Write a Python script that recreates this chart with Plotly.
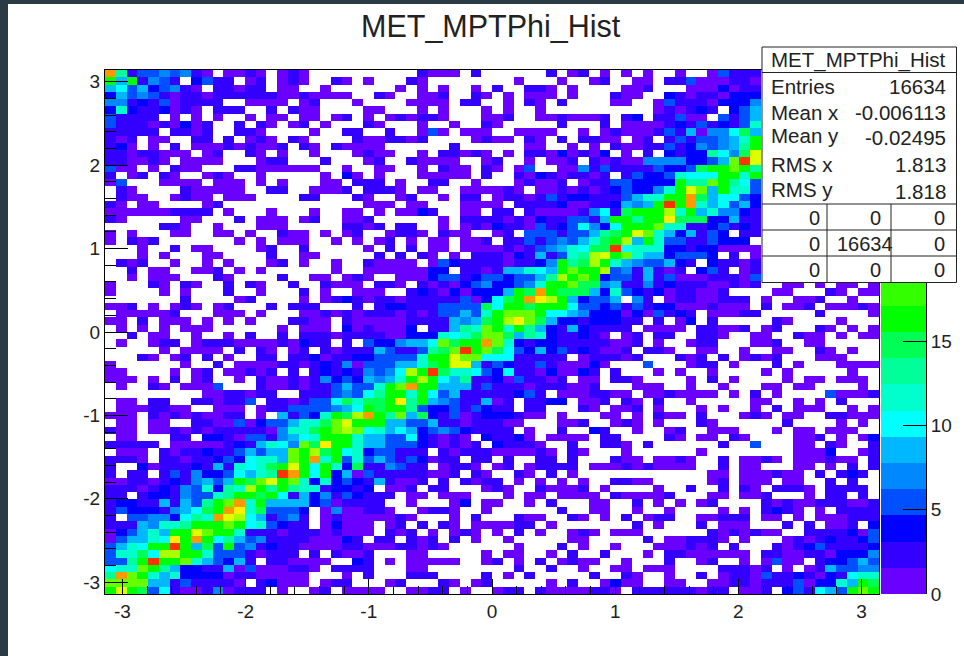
import plotly.graph_objects as go

PI = 3.14159265
N_BINS = 72
HIST_TITLE = "MET_MPTPhi_Hist"

# Cell readings, top row first. One character per bin: the colour band.
LEFT_COLS = [
"h924454521.1121.121.....","b6b2542.3422.12.121..21.","674634521.22122.11..1...","36454212212222221121111.",
"55232412222..1111.12...1","383223121.222..2.211....","42222.1.1.1..1.11.11.12.","4222121312..2.21.12.1...",
"22222.2212..221....1..22","212.11..22.2.121.21....2","231.1.2.111212112.21.211","22122111.12..21.1..1...1",
"221121.1111...122...2...","411.1.211...22111111..1.","2.12.21..121..1.....1.31","14...1111.111.1.1...11.2",
".21....211111..22..1112.",".211..1211.111....22...2","21.11....12.............","1111112222.1...1...1..11",
"21.....11...2.111.12..11",".....221..1...111.....22","1.1...11..11.1..211.1.12","1.212.......1.1.111..1.1",
"...1..2.11....12..2.....","...1.1...11....2..11....",".212..1..1.1...12.1..1..","..2.11..112.1.1......1..",
"..1.111...21....2..11.12","1...21.21..2.21..2..2111","1....1.1...2..1...2.1..1",".......2....12....1.1232",
"112.1.121.12...2.222...2",".111112...111.1...112121","11.2.111.1.1.1...2211.21",".1.1.1.111......1.111.31",
"..2.11..1..1.2..2.222122",".1..122.1222111121322.2.",".....1.1111.2.21.12.2122","...21.12.2.1..22.2231223",
"1......1..2.111122123251","11....1.12.11212.2.23232","111.1.2.12..1.2112125343",".1..21.1114...2112122464",
".........1122122..222454",".11.22..221224.2212447a8",".1112211..111.1224444567","111.212121122.1.62438cae",
".11.11..221141344688adfb","211.112121222221588acded",".11...22.33214425678ccb8","22222.111112326875dagcb8",
".111.212232246466dbeab78","2221.221223437886dbh8b48","2..312223262878acfc7b83a","2.22.24253347689jhc7c361",
"112212325646badfcd838343","2221232548398ec9c9882332","22.233254489bbac72635243","2332262649bdh8b666634122",
"243332567abhg8a4443.1511","2.44553798hfe762452.1211","22265889bbbdb784322.1311","134686bbfdbb822212221211",
"146687gbhb79645222211132","4687bbjc6a4b452322111122","488a7eebc844421222.2.211","449bjccd864362.221111..3",
"788db963322614111221.222","9hdb868333312211111...1.","dddd662422221.23111.122.","bfba47211251222.1..12.11",
]
MIDDLE_COLS = [
".....2111.2......2.12.1.","1...21........1...1..12.","...1.1.1..1.2..221.1....",".21..112..21.1.111.1...2",
"....1111.22..1.21.2....1","11...1.1...1.1..1.......","1.121221...112..1121112.","21...1..1..21.....2...2.",
"..2..141.111..1111..1.12","112212....1211.21.2.2211","11......2......11..1.1.2","211..1.22121.1.22131213.",
"12..21111..12..1.112.212",".11..1.211.21.14..115242",".1...11111.2..213212212.","22.1..22..1...12112.1224",
"2221.11..111121.11212123","1..12..1.22.122124233222","111.11...1111.2222311223",".1.1132..11.22.211112572",
"2......1.22221213224426b","12.22..1.121322142347537","..1221.211..12.44424469a",".12.1.11.112.224245468ac",
"1.2.2.11.111121245687aaj",".2.2.21.1.22213262489efc","21111.143222212235b9aeb8","11111133.221266876bdcce4",
"1..111344234434469ebdb34",".221.212134533458bbdaa56","11..2321313336bahbaaa638","1221222224137achgeb63446",
".2332224444a7ccabbb74434","222121244648bdddb7765333","11112222656abegda6332333","21113.22698db8b963263222",
"2211333878adda698322321.","4335667dabchd83233222221","2642249adjbda74363423211","344448bcfdd77722222.1222",
"444668acff6243224211131.","5457ebja88743722131132.2","6568beb769223142212.11.2","48bdhcb666242221222112..",
"79cb8b74622222342.111221","aacg9b65422612.2233.112.","cacc9433424322.22...21.1","hc9d6a32412333211.1...11",
"bb6644622122211...112..1","78676345432222.1..2..32.","6644732121.32231.1111.22","66444321212.32221..2..22",
"344222.21222111121.21...","464243122.22.2..22.2...2","225422.1221.12.12222.111","422222112.21..21.2.1....",
"262112.2.2122.1.1.1.1..2","3.112.22...121..21112.1.","222.11.111...1.11.1111.2","22..1...13.11..1.2...11.",
"221..1221..1......2..11.","11121...1.2...211..21.1.","1.12.2.21.111122.1......","1.212.1.121.1.2.1..121.1",
".22.212.2.1..1.....11...","11122121......1...2.1..1","2...11.....1.11..1.2..2.","2.1.11111..12.1.2.1211..",
"2...11........2..2..1..1","2...222....2.1.2.....2..","..12...21.12.....1.2..13","11..1122.1..122.21111221",
]
# The first rows run behind the statistics box, so only the visible bins are listed.
RIGHT_COLS = [
"1.1..1..14222",".11.224111221","112...1113122","11..321221333","1..1422213335","...121232.346",
"23.22411.4246","1111232423248","11124261557a6",".12.24244568b","112242354569c","1.2.3233975af",
"1155553346djf","2224334acbdb9","243348777bb8b","43333b99db974","43358bfd6b884","4688bbha67743",
"656bjch867463","accbe8b685532","b9bbgaaa33622","bbbd882234232","bfd8636243.22","e6b844224333.",
"7888332331111","d86634443.2.1","6544632.32212","526212.342.12","4262411122214",
"2252322211212..11.1.11.1","4323122112....11...21.11",".52.12211222.1..112..1..","242331112111.2.112.11121",
"1314232.11122.....2....1","22.2.13.2.....21....1...","2.1111.22112.12...21.1.1","12.22..221..11..211.1.11",
"12.1..122...112..11.....","2.221..11..1..11..21.1..","12...212.2.1212...111...","..4...122.1...2.1...1111",
"...1.1..1....1.1.....1..","21....1.2.1....1.11.111.",".111..1..1...11.11....1.","1.1121111.1.2.1....41112",
"21.2..1.....11..1.1.2...","12.1...1.1..1.2.111..1.1",".1.211.2...121.11..22111","21.1...21......2....1.1.",
".1..12..111...1.11.111..","....21.11.21....112.1.13","1.2......2..4...11.21..2","1......1........1113..12",
"11.1121..2.1121.111211.2","2121111..2.11...11.1.2.2","........11.111211.2.232.","211.....12.111.11..2.2..",
"...1..2..2.21.2221.2222.","11112...11.112...1.22.2.",".2.1.1.12....21211222112",".1..1....1.1.2321.1.2222",
"2.122..11222.11.1.111222",".2.1...2.111...2.2.112.3","11......2121211..2222314","..2.112221.1...121232234",
"...111212.2...2123422223","..1.22111111.22112213335","1...2..12..1.1411.233464","1.111....22212.1.1264455",
"21..1..2.122142232132788","11..11..11221222413386ca",".222222122.112.342764bdb",
]

# Colour band of each character, and a histogram count inside that band.
BAND_CODES = ".123456789abcdefghijk"
BAND_COUNTS = [0, 1, 2, 4, 5, 7, 8, 10, 11, 13, 14, 16, 17, 19, 21, 22, 24, 25, 27, 28, 30]

# ROOT rainbow palette, 20 levels.
PALETTE = ["#6a00ff", "#3300ff", "#0000ff", "#0050ff", "#0088ff", "#00b8ff", "#00ffff", "#00ffcc",
           "#00ff99", "#00ff55", "#00ff00", "#33ff00", "#66ff00", "#aaff00", "#ddff00", "#ffee00",
           "#ff9900", "#ff6600", "#ff3300", "#ff0000"]
ZMAX = 31.1
TICKS_XY = [-3, -2, -1, 0, 1, 2, 3]
TICK_LABELS_XY = ["-3", "-2", "-1", "0", "1", "2", "3"]
BAR_TICKS = [0, 5, 10, 15, 20, 25, 30]

STATS_LABELS = ["Entries", "Mean x", "Mean y", "RMS x", "RMS y"]
STATS_VALUES = ["16634", "-0.006113", "-0.02495", "1.813", "1.818"]
OVERFLOW_ROWS = [["0", "0", "0"], ["0", "16634", "0"], ["0", "0", "0"]]

W, H = 964, 656
INK = "#222222"
FONT = "Liberation Sans"
fx = lambda px: px / W
fy = lambda px: 1 - px / H

code_to_count = dict(zip(BAND_CODES, BAND_COUNTS))
rows = [(a + b + c.ljust(24, "."))[:N_BINS] for a, b, c in zip(LEFT_COLS, MIDDLE_COLS, RIGHT_COLS)]
z = [[(code_to_count[ch] or None) for ch in row] for row in reversed(rows)]
edges = [-PI + 2 * PI * i / N_BINS for i in range(N_BINS + 1)]

n = len(PALETTE)
scale = []
for i, c in enumerate(PALETTE):
    scale += [[i / n, c], [(i + 1) / n, c]]

bar_edges = [ZMAX * i / n for i in range(n + 1)]
bar_z = [[ZMAX * (i + 0.5) / n] for i in range(n)]

fig = go.Figure()
fig.add_trace(go.Heatmap(x=edges, y=edges, z=z, coloraxis="coloraxis", hoverongaps=False))
fig.add_trace(go.Heatmap(x=[0, 1], y=bar_edges, z=bar_z, coloraxis="coloraxis", xaxis="x2", yaxis="y2"))

axis_common = dict(showgrid=False, zeroline=False, showline=True, linecolor="#000000", linewidth=1, mirror=True,
                   ticks="inside", tickcolor="#000000", tickfont=dict(family=FONT, size=19, color=INK),
                   range=[-PI, PI], tickmode="array", tickvals=TICKS_XY, ticktext=TICK_LABELS_XY)
fig.update_layout(
    width=W, height=H, margin=dict(l=0, r=0, t=0, b=0, autoexpand=False), paper_bgcolor="#2b3b43",
    plot_bgcolor="#ffffff",
    coloraxis=dict(colorscale=scale, cmin=0, cmax=ZMAX, showscale=False),
    xaxis=dict(domain=[fx(105), fx(879)], anchor="y", ticklen=15,
               minor=dict(ticks="inside", ticklen=8, tick0=0, dtick=0.2, tickcolor="#000000", showgrid=False),
               **axis_common),
    yaxis=dict(domain=[fy(594), fy(70)], anchor="x", ticklen=23,
               minor=dict(ticks="inside", ticklen=11, tick0=0, dtick=0.2, tickcolor="#000000", showgrid=False),
               **axis_common),
    xaxis2=dict(domain=[fx(881), fx(926)], anchor="y2", range=[0, 1], showticklabels=False, ticks="",
                showgrid=False, zeroline=False),
    yaxis2=dict(domain=[fy(594), fy(70)], anchor="x2", side="right", range=[0, ZMAX], showgrid=False,
                zeroline=False, showline=True, linecolor="#000000", linewidth=1, ticks="inside", ticklen=23,
                tickcolor="#000000", tickmode="array", tickvals=BAR_TICKS,
                tickfont=dict(family=FONT, size=19, color=INK)),
)

shapes = [dict(type="rect", xref="paper", yref="paper", x0=fx(8), x1=1, y0=0, y1=fy(4),
               fillcolor="#ffffff", line_width=0, layer="below"),
          dict(type="rect", xref="paper", yref="paper", x0=fx(762), x1=fx(956.5), y0=fy(282.5), y1=fy(47),
               fillcolor="#ffffff", line=dict(color="#222222", width=1))]
for y_px in (72.5, 204, 230, 256):
    shapes.append(dict(type="line", xref="paper", yref="paper", x0=fx(762), x1=fx(956.5), y0=fy(y_px), y1=fy(y_px),
                       line=dict(color="#222222", width=1)))
for x_px in (827, 891):
    shapes.append(dict(type="line", xref="paper", yref="paper", x0=fx(x_px), x1=fx(x_px), y0=fy(204), y1=fy(282.5),
                       line=dict(color="#222222", width=1)))
fig.update_layout(shapes=shapes)


def note(text, x_px, y_px, anchor="center", size=20):
    fig.add_annotation(text=text, xref="paper", yref="paper", x=fx(x_px), y=fy(y_px), xanchor=anchor, yanchor="middle",
                       showarrow=False, xshift=0, font=dict(family=FONT, size=size, color=INK), borderpad=0, borderwidth=0)


note(HIST_TITLE, 491, 26, size=30.5)
note(HIST_TITLE, 858, 60, size=20.5)
label_y = [87, 113, 136, 165, 190]
value_y = [87, 113, 138, 165, 191]
for lab, val, ly, vy in zip(STATS_LABELS, STATS_VALUES, label_y, value_y):
    note(lab, 771, ly, "left", 20.5)
    note(val, 946, vy, "right", 20.5)
for row, y_px in zip(OVERFLOW_ROWS, (218, 244, 270)):
    note(row[0], 820, y_px, "right")
    if row[1] == "0":
        note(row[1], 875, y_px)
    else:
        note(row[1], 865, y_px)
    note(row[2], 945, y_px, "right")

fig.write_html("out.html", config={"displayModeBar": False},
               post_script="document.body.style.margin='0';document.documentElement.style.overflow='hidden';")
